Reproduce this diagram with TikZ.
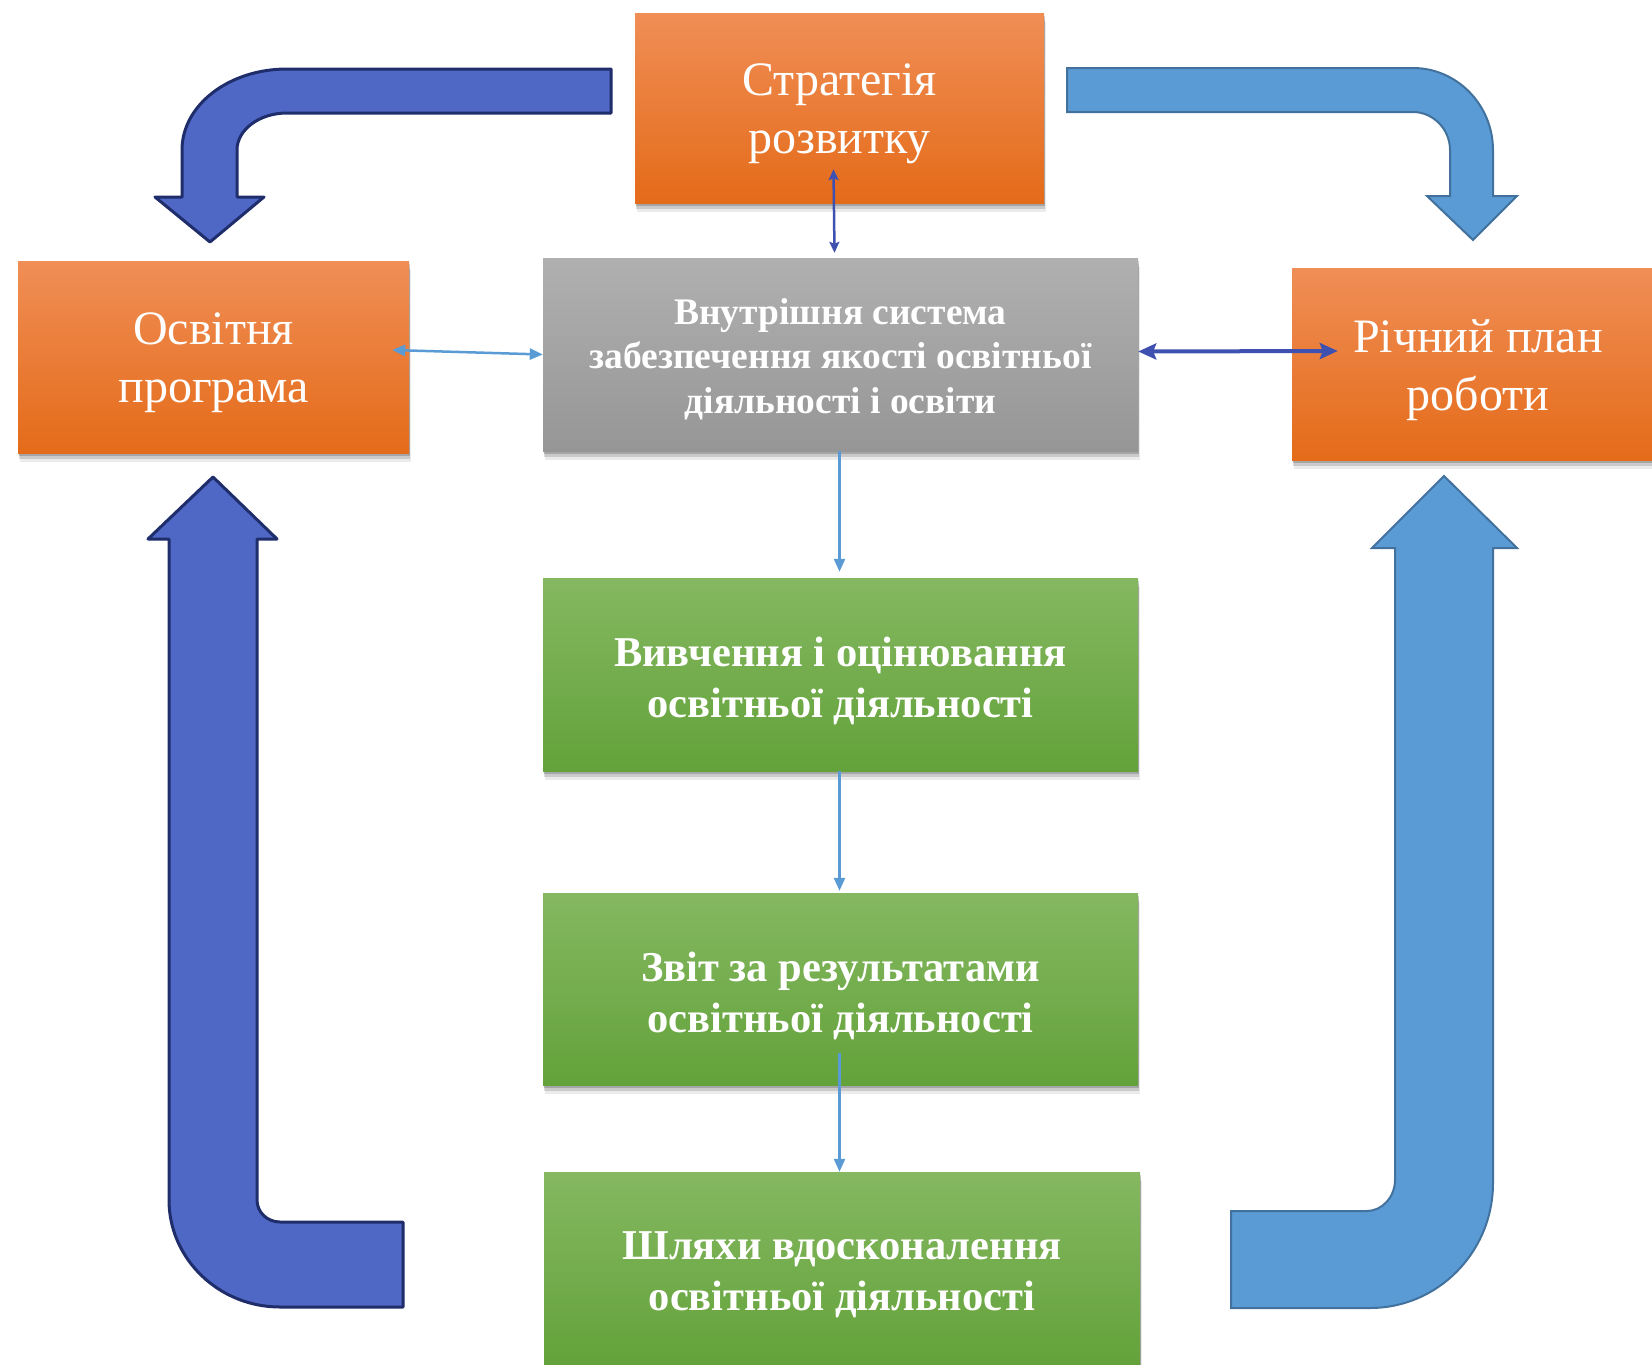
\documentclass[tikz,border=0pt]{standalone}
\usepackage{fontspec}
\setmainfont{Liberation Serif}
\usetikzlibrary{arrows.meta,shadows,calc}
\definecolor{orTop}{RGB}{240,142,86}
\definecolor{orMid}{RGB}{243,125,44}
\definecolor{orBot}{RGB}{228,107,25}
\definecolor{grTop}{RGB}{176,176,176}
\definecolor{grBot}{RGB}{150,150,150}
\definecolor{gnTop}{RGB}{133,184,97}
\definecolor{gnMid}{RGB}{115,176,68}
\definecolor{gnBot}{RGB}{99,162,58}
\definecolor{dbFill}{RGB}{79,104,198}
\definecolor{dbLine}{RGB}{31,45,107}
\definecolor{lbFill}{RGB}{91,155,213}
\definecolor{lbLine}{RGB}{65,113,156}
\definecolor{conDark}{RGB}{63,81,176}
\begin{document}
\begin{tikzpicture}[x=1pt,y=-1pt,
  box/.style={draw=none, inner sep=0pt,
    drop shadow={shadow xshift=0.5pt, shadow yshift=-3pt, opacity=0.18, fill=black},
    drop shadow={shadow xshift=1pt, shadow yshift=-6pt, opacity=0.14, fill=black},
    drop shadow={shadow xshift=1.5pt, shadow yshift=-9pt, opacity=0.08, fill=black}},
  orangebox/.style={box, top color=orTop, middle color=orMid, bottom color=orBot},
  greybox/.style={box, top color=grTop, bottom color=grBot},
  greenbox/.style={box, top color=gnTop, middle color=gnMid, bottom color=gnBot},
  txt/.style={inner sep=0pt, align=center, text=white},
  orangetext/.style={txt, font=\fontsize{48}{58}\selectfont},
  greytext/.style={txt, font=\bfseries\fontsize{37.5}{44.5}\selectfont},
  greentext/.style={txt, font=\bfseries\fontsize{42.5}{51}\selectfont},
  darkarrow/.style={fill=dbFill, draw=dbLine, line width=3pt, line join=round},
  lightarrow/.style={fill=lbFill, draw=lbLine, line width=2pt, line join=miter},
  lbcon/.style={draw=lbFill, line width=2.5pt, {Triangle[length=13pt,width=11pt]}-{Triangle[length=13pt,width=11pt]}},
  lbone/.style={draw=lbFill, line width=2.5pt, -{Triangle[length=13pt,width=11pt]}},
  dbcon/.style={draw=conDark, line width=4pt, {Stealth[length=18pt,width=16pt,inset=3pt]}-{Stealth[length=18pt,width=16pt,inset=3pt]}},
  dbthin/.style={draw=conDark, line width=2.5pt, {Stealth[length=11pt,width=10pt,inset=2pt]}-{Stealth[length=11pt,width=10pt,inset=2pt]}}
]
\useasboundingbox (0,0) rectangle (1652,1365);

% big bent arrows
\path[darkarrow] (611,69) -- (287,69) .. controls (229,69) and (182,105) .. (182,150)
  -- (182,197) -- (155,197) -- (210,242) -- (264,197) -- (237,197) -- (237,150)
  .. controls (237,130) and (259,113) .. (287,113) -- (611,113) -- cycle;
\path[lightarrow] (1067,68) -- (1413,68) .. controls (1457,68) and (1493,105) .. (1493,150)
  -- (1493,196) -- (1517,196) -- (1473,240) -- (1427,196) -- (1450,196) -- (1450,150)
  .. controls (1450,129) and (1433,112) .. (1413,112) -- (1067,112) -- cycle;
\path[darkarrow] (213,477) -- (277,539) -- (257,539) -- (257,1200)
  .. controls (257,1212) and (267,1222) .. (280,1222) -- (403,1222) -- (403,1307) -- (280,1307)
  .. controls (219,1307) and (169,1259) .. (169,1200) -- (169,539) -- (148,539) -- cycle;
\path[lightarrow] (1444,476) -- (1517,548) -- (1493,548) -- (1493,1183)
  .. controls (1493,1252) and (1438,1308) .. (1370,1308) -- (1231,1308) -- (1231,1211) -- (1367,1211)
  .. controls (1382,1211) and (1395,1197) .. (1395,1180) -- (1395,548) -- (1372,548) -- cycle;

% boxes
\node[orangebox, minimum width=409pt, minimum height=190pt] (strat) at (839.5,108) {};
\node[orangebox, minimum width=391pt, minimum height=192pt] (osv) at (213.5,357) {};
\node[orangebox, minimum width=372pt, minimum height=192pt] (rich) at (1478,364) {};
\node[greybox, minimum width=595pt, minimum height=193pt] (grey) at (840.5,354.5) {};
\node[greenbox, minimum width=595pt, minimum height=193pt] (g1) at (840.5,674.5) {};
\node[greenbox, minimum width=595pt, minimum height=192pt] (g2) at (840.5,989) {};
\node[greenbox, minimum width=596pt, minimum height=193pt] (g3) at (842,1268.5) {};

% texts
\node[orangetext] (strat-t) at ([yshift=-6pt]strat.center) {Стратегія\\розвитку};
\node[orangetext] (osv-t) at ([yshift=-6pt]osv.center) {Освітня\\програма};
\node[orangetext] (rich-t) at ([yshift=-6pt]rich.center) {Річний план\\роботи};
\node[greytext] (grey-t) at ([yshift=-4.5pt]grey.center) {Внутрішня система\\забезпечення якості освітньої\\діяльності і освіти};
\node[greentext] (g1-t) at ([yshift=-6.5pt]g1.center) {Вивчення і оцінювання\\освітньої діяльності};
\node[greentext] (g2-t) at ([yshift=-6.5pt]g2.center) {Звіт за результатами\\освітньої діяльності};
\node[greentext] (g3-t) at ([yshift=-6.5pt]g3.center) {Шляхи вдосконалення\\освітньої діяльності};

% connectors
\draw[dbthin] ([xshift=-6pt,yshift=34pt]strat.south) -- ([xshift=-6pt,yshift=5pt]grey.north);
\draw[lbcon] ([xshift=-17pt,yshift=7pt]osv.east) -- (grey.west);
\draw[dbcon] ([yshift=3pt]grey.east) -- ([xshift=46pt,yshift=13pt]rich.west);
\draw[lbone, shorten >=6pt] ([xshift=-1pt]grey.south) -- ([xshift=-1pt]g1.north);
\draw[lbone, shorten >=2pt] ([xshift=-1pt]g1.south) -- ([xshift=-1pt]g2.north);
\draw[lbone] ([xshift=-1pt,yshift=32pt]g2.south) -- ([xshift=-2.5pt]g3.north);
\end{tikzpicture}
\end{document}
